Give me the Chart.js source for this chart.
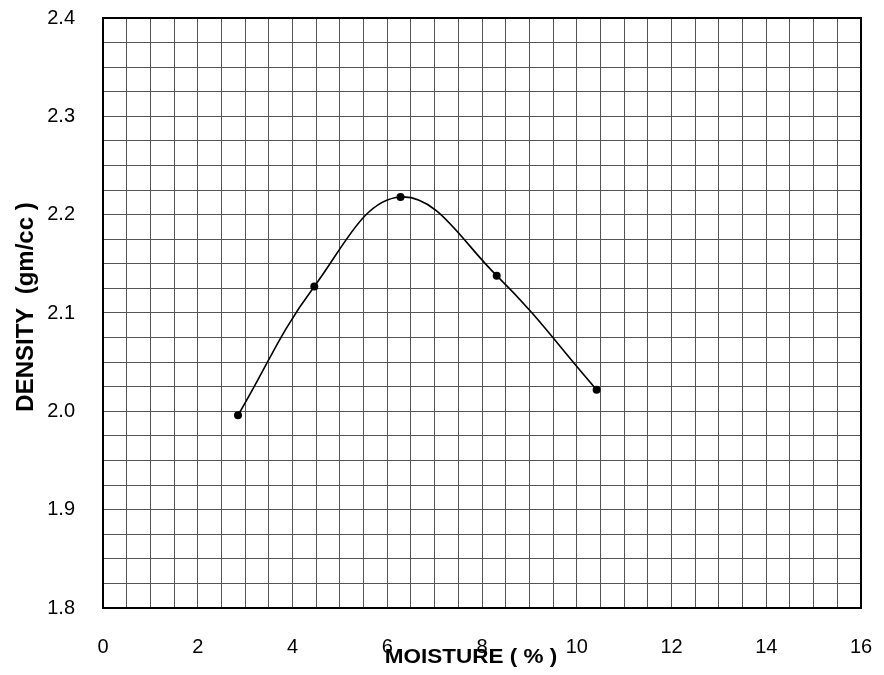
<!DOCTYPE html>
<html>
<head>
<meta charset="utf-8">
<script src="https://cdn.jsdelivr.net/npm/chart.js@4.4.1/dist/chart.umd.min.js"></script>
<style>
  html, body { margin: 0; padding: 0; background: #fff; }
  #wrap { width: 884px; height: 675px; }
</style>
</head>
<body>
<div id="wrap"><canvas id="chart" width="884" height="675"></canvas></div>
<script>
// Data
const moisture = [2.85, 4.46, 6.28, 8.31, 10.42];
const density = [1.996, 2.127, 2.218, 2.138, 2.022];
const xTitle = 'MOISTURE ( % )';
const yTitle = 'DENSITY  (gm/cc )';

// Draws the frame round the plot and the two axis titles
const framePlugin = {
    id: 'frame',
    beforeDatasetsDraw(chart) {
        const { ctx, chartArea: a } = chart;
        ctx.save();
        ctx.strokeStyle = '#000';
        ctx.lineWidth = 2;
        ctx.strokeRect(a.left, a.top, a.right - a.left, a.bottom - a.top);
        ctx.restore();
    },
    afterDraw(chart) {
        const { ctx } = chart;
        ctx.save();
        ctx.fillStyle = '#000';
        ctx.textAlign = 'center';
        ctx.textBaseline = 'alphabetic';
        ctx.font = 'bold 21px "Liberation Sans", Arial, sans-serif';
        ctx.save();
        ctx.translate(471, 663);
        ctx.scale(1.07, 1);
        ctx.fillText(xTitle, 0, 0);
        ctx.restore();
        ctx.font = 'bold 24px "Liberation Sans", Arial, sans-serif';
        ctx.translate(33, 307);
        ctx.rotate(-Math.PI / 2);
        ctx.fillText(yTitle, 0, 0);
        ctx.restore();
    }
};

const ctx = document.getElementById('chart').getContext('2d');
new Chart(ctx, {
    type: 'line',
    data: {
        datasets: [{
            data: moisture.map((x, i) => ({ x: x, y: density[i] })),
            borderColor: '#000',
            backgroundColor: '#000',
            borderWidth: 1.6,
            pointRadius: 4,
            pointBackgroundColor: '#000',
            pointBorderWidth: 0,
            tension: 0.4,
            fill: false
        }]
    },
    options: {
        responsive: false,
        animation: false,
        layout: { padding: 0 },
        plugins: { legend: { display: false }, tooltip: { enabled: false } },
        scales: {
            x: {
                type: 'linear',
                min: 0,
                max: 16,
                afterFit(scale) {
                    scale.height = 67;
                    scale.paddingLeft = 0;
                    scale.paddingRight = 23;
                },
                border: { display: true, color: '#000', width: 2 },
                grid: { color: '#555', lineWidth: 1, drawTicks: false },
                ticks: {
                    stepSize: 0.5,
                    autoSkip: false,
                    maxRotation: 0,
                    padding: 27,
                    color: '#000',
                    font: { family: '"Liberation Sans", Arial, sans-serif', size: 20 },
                    callback: v => (Math.abs(v / 2 - Math.round(v / 2)) < 1e-6 ? String(v) : '')
                }
            },
            y: {
                type: 'linear',
                min: 1.8,
                max: 2.4,
                afterFit(scale) {
                    scale.width = 103;
                    scale.paddingTop = 18;
                    scale.paddingBottom = 0;
                },
                border: { display: true, color: '#000', width: 2 },
                grid: { color: '#555', lineWidth: 1, drawTicks: false },
                ticks: {
                    stepSize: 0.025,
                    autoSkip: false,
                    padding: 28,
                    color: '#000',
                    font: { family: '"Liberation Sans", Arial, sans-serif', size: 20 },
                    callback: v => (Math.abs(v * 10 - Math.round(v * 10)) < 1e-6 ? v.toFixed(1) : '')
                }
            }
        }
    },
    plugins: [framePlugin]
});
</script>
</body>
</html>
